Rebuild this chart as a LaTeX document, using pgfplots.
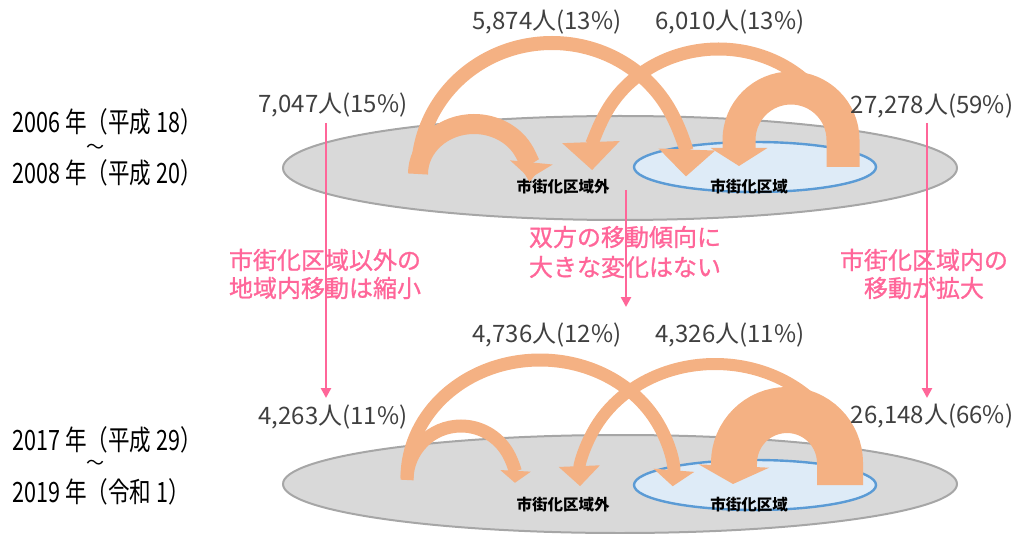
\documentclass[border=0pt]{standalone}
\usepackage{fontspec}
\setmainfont{Noto Sans CJK JP}
\newfontfamily\pinkfont{Noto Sans CJK JP}[FakeBold=1]
\usepackage{graphicx}
\usepackage{pgfplots}
\pgfplotsset{compat=1.18}
\usetikzlibrary{arrows.meta}
\definecolor{flow}{HTML}{F4B183}
\definecolor{grayfill}{HTML}{D9D9D9}
\definecolor{graydraw}{HTML}{A6A6A6}
\definecolor{bluefill}{HTML}{DEEBF7}
\definecolor{bluedraw}{HTML}{5B9BD5}
\definecolor{pinkc}{HTML}{FF6699}
\definecolor{numgray}{HTML}{404040}
\newcommand{\yearfont}{\fontsize{14pt}{16pt}\selectfont}
\newcommand{\numfont}{\fontsize{12pt}{14pt}\selectfont}
\begin{document}
\begin{tikzpicture}
\begin{axis}[name=ax,width=508pt,height=267pt,scale only axis,
  xmin=0,xmax=1016,ymin=0,ymax=534,y dir=reverse,
  axis lines=none,clip=false,xtick=\empty,ytick=\empty]

% ---------------- top panel (2006-2008) ----------------
\draw[graydraw,line width=1pt,fill=grayfill] (axis cs:620,168) ellipse[x radius=168.5pt,y radius=26pt];
\draw[bluedraw,line width=1.2pt,fill=bluefill] (axis cs:755,167) ellipse[x radius=60.5pt,y radius=12.5pt];
\node[font=\fontsize{7.75pt}{9pt}\selectfont\bfseries] at (axis cs:563,187) {市街化区域外};
\node[font=\fontsize{7.75pt}{9pt}\selectfont\bfseries] at (axis cs:749,187) {市街化区域};

% 5,874 : outside -> inside
\draw[flow,line width=7pt,-{Triangle[width=27.5pt,length=13.5pt]}]
  (axis cs:418,172) arc[start angle=180,end angle=-2,x radius=67pt,y radius=64.5pt];
% 7,047 : outside -> outside
\draw[flow,line width=10pt,-{Triangle[width=21pt,length=8pt]}]
  (axis cs:418,174) arc[start angle=180,end angle=-5,x radius=28pt,y radius=25pt];
% 6,010 : inside -> outside
\draw[flow,line width=6.5pt,-{Triangle[width=28pt,length=14pt]}]
  (axis cs:845,166) arc[start angle=0,end angle=182,x radius=63.25pt,y radius=58.5pt];
% 27,278 : inside -> inside
\draw[flow,line width=16.5pt,-{Triangle[width=28pt,length=9pt]}]
  (axis cs:843,167) -- (axis cs:843,140) arc[start angle=0,end angle=180,radius=26pt] -- (axis cs:739,166);

\draw[pinkc,line width=1.3pt,-{Triangle[width=5pt,length=5pt]}] (axis cs:326,123) -- (axis cs:326,398);
\draw[pinkc,line width=1.3pt,-{Triangle[width=5pt,length=5pt]}] (axis cs:626,190) -- (axis cs:626,307);
\draw[pinkc,line width=1.3pt,-{Triangle[width=5pt,length=5pt]}] (axis cs:927,123) -- (axis cs:927,398);

\node[font=\numfont,text=numgray] at (axis cs:547,22) {5,874人(13\%)};
\node[font=\numfont,text=numgray] at (axis cs:730,22) {6,010人(13\%)};
\node[font=\numfont,text=numgray] at (axis cs:333,105) {7,047人(15\%)};
\node[font=\numfont,text=numgray] at (axis cs:932,106) {27,278人(59\%)};

\node[anchor=west,inner sep=0pt] at (axis cs:12,122) {\scalebox{0.77}[1]{\yearfont 2006 年（平成 18）}};
\node[inner sep=0pt,font=\fontsize{9pt}{10pt}\selectfont] at (axis cs:95,149) {～};
\node[anchor=west,inner sep=0pt] at (axis cs:12,173) {\scalebox{0.77}[1]{\yearfont 2008 年（平成 20）}};

% ---------------- pink comments ----------------
\node[align=center,text=pinkc,font=\pinkfont\fontsize{12pt}{14pt}\selectfont] at (axis cs:325,274) {市街化区域以外の\\地域内移動は縮小};
\node[align=center,text=pinkc,font=\pinkfont\fontsize{12pt}{15pt}\selectfont] at (axis cs:625,252) {双方の移動傾向に\\大きな変化はない};
\node[align=center,text=pinkc,font=\pinkfont\fontsize{12pt}{14pt}\selectfont] at (axis cs:924,274) {市街化区域内の\\移動が拡大};

% ---------------- bottom panel (2017-2019) ----------------
\draw[graydraw,line width=1pt,fill=grayfill] (axis cs:620,484) ellipse[x radius=168.5pt,y radius=24.5pt];
\draw[bluedraw,line width=1.2pt,fill=bluefill] (axis cs:755,485) ellipse[x radius=60.5pt,y radius=12.5pt];
\node[font=\fontsize{7.75pt}{9pt}\selectfont\bfseries] at (axis cs:563,505) {市街化区域外};
\node[font=\fontsize{7.75pt}{9pt}\selectfont\bfseries] at (axis cs:749,505) {市街化区域};

% 4,736 : outside -> inside
\draw[flow,line width=6.5pt,-{Triangle[width=20pt,length=8pt]}]
  (axis cs:407,478) arc[start angle=180,end angle=-4,x radius=66.5pt,y radius=59pt];
% 4,263 : outside -> outside
\draw[flow,line width=6.5pt,-{Triangle[width=15pt,length=6pt]}]
  (axis cs:407,480) arc[start angle=180,end angle=-3,x radius=27pt,y radius=27pt];
% 4,326 : inside -> outside
\draw[flow,line width=6pt,-{Triangle[width=20pt,length=10pt]}]
  (axis cs:850,482) arc[start angle=0,end angle=182,x radius=67.5pt,y radius=59pt];
% 26,148 : inside -> inside
\draw[flow,line width=23pt,-{Triangle[width=35pt,length=9pt]}]
  (axis cs:840,485) -- (axis cs:840,463) arc[start angle=0,end angle=180,radius=26.5pt] -- (axis cs:733,484);

\node[font=\numfont,text=numgray] at (axis cs:547,335) {4,736人(12\%)};
\node[font=\numfont,text=numgray] at (axis cs:730,335) {4,326人(11\%)};
\node[font=\numfont,text=numgray] at (axis cs:333,417) {4,263人(11\%)};
\node[font=\numfont,text=numgray] at (axis cs:932,416) {26,148人(66\%)};

\node[anchor=west,inner sep=0pt] at (axis cs:12,440) {\scalebox{0.77}[1]{\yearfont 2017 年（平成 29）}};
\node[inner sep=0pt,font=\fontsize{9pt}{10pt}\selectfont] at (axis cs:95,465) {～};
\node[anchor=west,inner sep=0pt] at (axis cs:12,492) {\scalebox{0.77}[1]{\yearfont 2019 年（令和 1）}};
\end{axis}
\pgfresetboundingbox
\path (ax.south west) rectangle (ax.north east);
\end{tikzpicture}
\end{document}
